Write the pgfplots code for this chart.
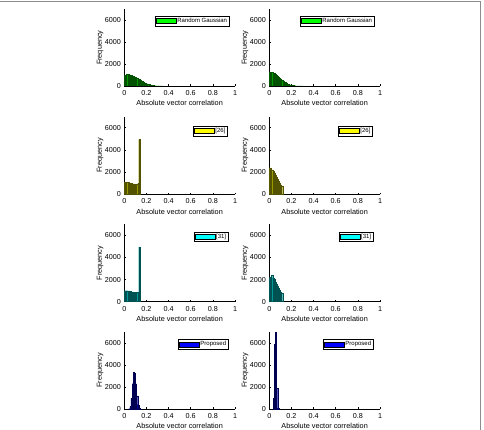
\documentclass[border=0pt]{standalone}
\usepackage{fontspec}
\setmainfont{Liberation Sans}
\usepackage{pgfplots}
\pgfplotsset{compat=1.18}
\definecolor{hgreen}{rgb}{0,1,0}
\definecolor{hyellow}{rgb}{1,1,0}
\definecolor{hcyan}{rgb}{0,1,1}
\definecolor{hblue}{rgb}{0,0,1}
\definecolor{framegray}{RGB}{140,140,140}
\newcommand{\tickfont}{\fontsize{7.2}{8}\selectfont}
\newcommand{\labfont}{\fontsize{7.3}{8.5}\selectfont}
\pgfplotsset{
  hist/.style={
    scale only axis, width=110.7pt, height=77pt,
    xmin=0, xmax=1, ymin=0, ymax=7000, enlargelimits=false,
    axis x line*=bottom, axis y line*=left,
    axis line style={-, line width=0.5pt},
    xtick={0,0.2,0.4,0.6,0.8,1}, ytick={0,2000,4000,6000},
    tick align=inside, major tick length=1.6pt,
    tick style={line width=0.5pt, black},
    scaled y ticks=false,
    /pgf/number format/1000 sep={},
    /pgf/number format/assume math mode=true,
    xticklabel style={font=\tickfont, yshift=-1pt},
    yticklabel style={font=\tickfont},
    xlabel={Absolute vector correlation}, ylabel={Frequency},
    every axis x label/.style={at={(axis description cs:0.5,-0.22)}, anchor=center, font=\labfont},
    every axis y label/.style={at={(axis description cs:-0.218,0.5)}, rotate=90, anchor=center, font=\labfont},
    legend style={at={(0.94,0.905)}, anchor=north east, draw=black, line width=0.4pt,
      font=\fontsize{6}{7}\selectfont, inner xsep=1.2pt, inner ysep=1.2pt,
      nodes={inner sep=0.8pt}},
  },
  bars/.style={ybar interval, fill=#1!60!black, draw=#1!32!black, line width=0.15pt, forget plot},
  swatch/.style={legend image code/.code={\draw[fill=#1, draw=black, line width=0.4pt] (0pt,-2.6pt) rectangle (20pt,2.6pt);}},
}
\begin{document}
\begin{tikzpicture}[x=1pt,y=1pt]
\useasboundingbox (0pt,0pt) rectangle (484pt,429pt);
\draw[framegray, line width=1pt] (-2pt,427pt) -- (480.5pt,427pt) -- (480.5pt,-2pt);

% Row 1 left
\begin{axis}[hist, at={(124.3pt,343pt)}, anchor=south west, height=76.5pt, legend style={at={(0.948,0.919)}}]
\addplot[bars=hgreen] coordinates {(0.00,980) (0.01,1020) (0.02,1050) (0.03,1060) (0.04,1040) (0.05,1010) (0.06,970) (0.07,930) (0.08,880) (0.09,830) (0.10,780) (0.11,720) (0.12,660) (0.13,600) (0.14,540) (0.15,480) (0.16,420) (0.17,360) (0.18,310) (0.19,260) (0.20,215) (0.21,175) (0.22,140) (0.23,110) (0.24,85) (0.25,65) (0.26,48) (0.27,35) (0.28,25) (0.29,17) (0.30,11) (0.31,7) (0.32,4) (0.33,2) (0.34,1) (0.35,0)};
\addlegendimage{swatch=hgreen}
\addlegendentry{Random Gaussian}
\end{axis}
% Row 1 right
\begin{axis}[hist, at={(269.3pt,343pt)}, anchor=south west, height=76.5pt, legend style={at={(0.948,0.919)}}]
\addplot[bars=hgreen] coordinates {(0.00,1300) (0.01,1280) (0.02,1250) (0.03,1200) (0.04,1140) (0.05,1070) (0.06,990) (0.07,910) (0.08,830) (0.09,740) (0.10,650) (0.11,560) (0.12,480) (0.13,400) (0.14,330) (0.15,270) (0.16,210) (0.17,165) (0.18,125) (0.19,95) (0.20,70) (0.21,50) (0.22,35) (0.23,24) (0.24,16) (0.25,10) (0.26,6) (0.27,4) (0.28,2) (0.29,1) (0.30,0)};
\addlegendimage{swatch=hgreen}
\addlegendentry{Random Gaussian}
\end{axis}

% Row 2 left
\begin{axis}[hist, at={(124.3pt,234.7pt)}, anchor=south west, height=77.7pt, legend style={at={(0.934,0.883)}}]
\addplot[bars=hyellow] coordinates {(0.00,1100) (0.01,1090) (0.02,1080) (0.03,1060) (0.04,1040) (0.05,1000) (0.06,980) (0.07,960) (0.08,950) (0.09,930) (0.10,900) (0.11,880) (0.12,1000) (0.13,4950) (0.14,0)};
\addlegendimage{swatch=hyellow}
\addlegendentry{[26]}
\end{axis}
% Row 2 right
\begin{axis}[hist, at={(269.3pt,234.7pt)}, anchor=south west, height=77.7pt, legend style={at={(0.934,0.883)}}]
\addplot[bars=hyellow] coordinates {(0.00,2400) (0.01,2350) (0.02,2200) (0.03,2050) (0.04,1900) (0.05,1700) (0.06,1550) (0.07,1380) (0.08,1200) (0.09,1030) (0.10,850) (0.11,760) (0.12,0)};
\addlegendimage{swatch=hyellow}
\addlegendentry{[26]}
\end{axis}

% Row 3 left
\begin{axis}[hist, at={(124.3pt,127.3pt)}, anchor=south west, height=77.5pt]
\addplot[bars=hcyan] coordinates {(0.00,1000) (0.01,1000) (0.02,990) (0.03,980) (0.04,970) (0.05,950) (0.06,900) (0.07,880) (0.08,870) (0.09,860) (0.10,850) (0.11,850) (0.12,860) (0.13,4950) (0.14,0)};
\addlegendimage{swatch=hcyan}
\addlegendentry{[31]}
\end{axis}
% Row 3 right
\begin{axis}[hist, at={(269.3pt,127.3pt)}, anchor=south west, height=77.5pt]
\addplot[bars=hcyan] coordinates {(0.00,2200) (0.01,2250) (0.02,2400) (0.03,2150) (0.04,2000) (0.05,1800) (0.06,1600) (0.07,1450) (0.08,1250) (0.09,1050) (0.10,880) (0.11,800) (0.12,0)};
\addlegendimage{swatch=hcyan}
\addlegendentry{[31]}
\end{axis}

% Row 4 left
\begin{axis}[hist, at={(124.3pt,20pt)}, anchor=south west, height=77pt]
\addplot[bars=hblue] coordinates {(0.04,30) (0.05,250) (0.06,1000) (0.07,2300) (0.08,3350) (0.09,3250) (0.10,2300) (0.11,1200) (0.12,400) (0.13,80) (0.14,10) (0.15,0)};
\addlegendimage{swatch=hblue}
\addlegendentry{Proposed}
\end{axis}
% Row 4 right
\begin{axis}[hist, at={(269.3pt,20pt)}, anchor=south west, height=77pt]
\addplot[bars=hblue] coordinates {(0.035,1000) (0.045,5900) (0.055,8500) (0.065,1900) (0.075,80) (0.085,0)};
\addlegendimage{swatch=hblue}
\addlegendentry{Proposed}
\end{axis}
\end{tikzpicture}
\end{document}
